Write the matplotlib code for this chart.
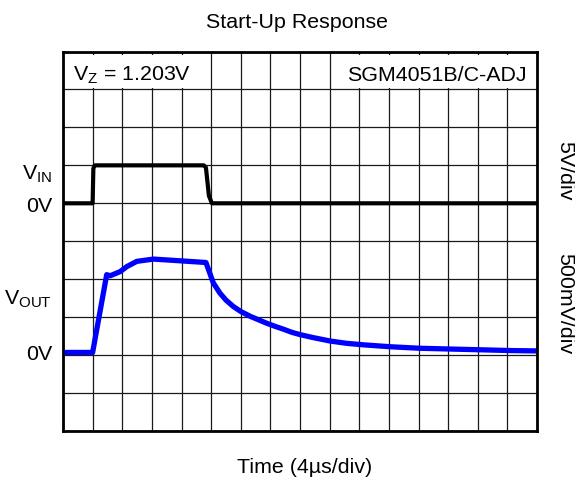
import matplotlib
matplotlib.use("Agg")
import matplotlib.pyplot as plt
import matplotlib.transforms as mtransforms
from matplotlib.patches import Rectangle
import numpy as np

plt.rcParams['font.family'] = ['Liberation Sans', 'DejaVu Sans']
plt.rcParams['mathtext.fontset'] = 'custom'
plt.rcParams['mathtext.rm'] = 'Liberation Sans'
plt.rcParams['mathtext.it'] = 'Liberation Sans'

# ---- data ----
# time in microseconds (4 us/div, 16 div)
vin_t = [0, 4.0, 4.1, 4.3, 19.0, 19.3, 19.7, 20.1, 64]
vin_v = [0, 0, 4.6, 5.0, 5.0, 4.7, 1.0, 0, 0]          # volts (5 V/div)

vout_t = [0, 4.0, 5.9, 6.36, 7.72, 8.6, 9.96, 12.2, 15.4, 19.3, 20.3, 21.2,
          22.0, 23.0, 24.0, 25.3, 26.4, 27.5, 28.6, 29.8, 30.9, 32.0, 33.8,
          36.1, 38.3, 40.6, 44.2, 48.2, 52.3, 56.4, 60.4, 64]
vout_v = [0.035, 0.035, 1.06, 1.045, 1.10, 1.165, 1.235, 1.265, 1.245, 1.22,
          0.95, 0.815, 0.725, 0.64, 0.575, 0.51, 0.465, 0.42, 0.38, 0.34, 0.30,
          0.27, 0.23, 0.185, 0.155, 0.135, 0.11, 0.09, 0.08, 0.07, 0.06, 0.055]  # volts (500 mV/div)

vin_scale, vin_offset = 5.0, 6.0      # V/div, div position of 0 V
vout_scale, vout_offset = 0.5, 2.0

fig = plt.figure(figsize=(5.75, 4.8), dpi=100)
ax = fig.add_axes([63/575, 1-431/480, 474/575, 379.5/480])

ax.set_xlim(0, 64)
ax.set_ylim(0, 10)
ax.set_xticks(np.arange(0, 65, 4))
ax.set_yticks(np.arange(0, 11, 1))
ax.tick_params(length=0, labelbottom=False, labelleft=False)
ax.set_axisbelow(True)
ax.grid(True, color='#1a1a1a', lw=0.9)
for s in ax.spines.values():
    s.set_linewidth(2.0)
    s.set_zorder(5)

ax.plot(vin_t, np.array(vin_v)/vin_scale + vin_offset, color='black', lw=3.0,
        solid_joinstyle='round', zorder=3)
ax.plot(vout_t, np.array(vout_v)/vout_scale + vout_offset, color='#0000ff', lw=3.8,
        solid_joinstyle='round', zorder=3)

# white label boxes in the top row
ax.add_patch(Rectangle((0, 9.05), 4.5*4, 0.87, facecolor='white', edgecolor='none', zorder=1))
ax.add_patch(Rectangle((9.43*4, 9.05), 64-9.43*4, 0.87, facecolor='white', edgecolor='none', zorder=1))

fs = 15.4
ax.text((72.7-63)/474*64, (431-80.7)/37.95, r'V$_{\mathrm{Z}}$ = 1.203V', fontsize=fs,
        ha='left', va='baseline', zorder=4)
ax.text((347-63)/474*64, (431-80.7)/37.95, 'SGM4051B/C-ADJ', fontsize=fs,
        ha='left', va='baseline', zorder=4)

tr = mtransforms.blended_transform_factory(ax.transAxes, ax.transData)
lx = -11/474
ax.text(lx, 6.62, r'V$_{\mathrm{IN}}$', fontsize=fs, ha='right', va='baseline', transform=tr)
ax.text(lx, 5.78, '0V', fontsize=fs, ha='right', va='baseline', transform=tr)
ax.text(lx, 3.32, r'V$_{\mathrm{OUT}}$', fontsize=fs, ha='right', va='baseline', transform=tr)
ax.text(lx, 1.87, '0V', fontsize=fs, ha='right', va='baseline', transform=tr)

rx = (564.5-63)/474
ax.text(rx, 6.87, '5V/div', fontsize=fs, rotation=270, ha='center', va='center', transform=tr)
ax.text(rx, 3.35, '500mV/div', fontsize=fs, rotation=270, ha='center', va='center', transform=tr)

fig.text(296.5/575, 1-28.5/480, 'Start-Up Response', fontsize=fs, ha='center', va='baseline')
fig.text(304.5/575, 1-473/480, 'Time (4µs/div)', fontsize=fs, ha='center', va='baseline')

fig.savefig('out.png', dpi=100)
